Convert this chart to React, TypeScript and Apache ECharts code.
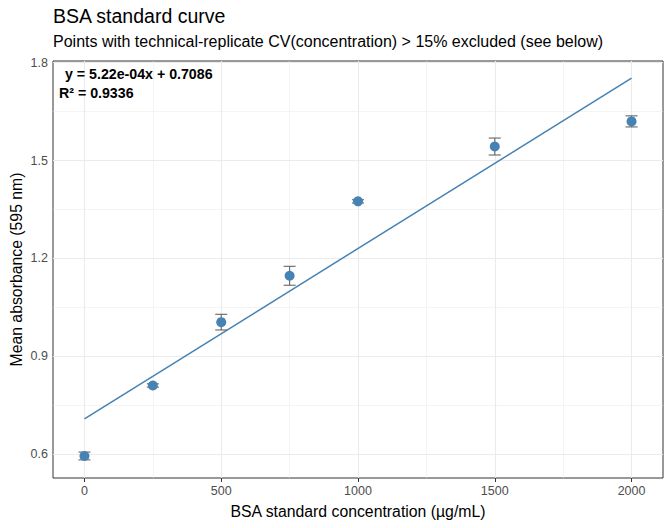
import React, { useEffect, useRef } from "react";
import * as echarts from "echarts";

// ---- data ----
const concentrations = [0, 250, 500, 750, 1000, 1500, 2000];
const meanAbsorbance = [0.595, 0.811, 1.005, 1.147, 1.375, 1.543, 1.62];
const absorbanceSD = [0.012, 0.005, 0.024, 0.029, 0.005, 0.026, 0.017];
const fitX = [0, 2000];
const fitY = [0.7086, 1.7526];
const xTicks = [0, 500, 1000, 1500, 2000];
const xMinorTicks = [250, 750, 1250, 1750];
const yTicks = [0.6, 0.9, 1.2, 1.5, 1.8];
const yMinorTicks = [0.75, 1.05, 1.35, 1.65];
const titleText = "BSA standard curve";
const subtitleText = "Points with technical-replicate CV(concentration) > 15% excluded (see below)";
const xTitle = "BSA standard concentration (µg/mL)";
const yTitle = "Mean absorbance (595 nm)";
const eqText = "y = 5.22e-04x + 0.7086";
const r2Text = "R² = 0.9336";

const FONT = "'Liberation Sans', Arial, Helvetica, sans-serif";
const BLUE = "#4682B4";

export default function App() {
  const ref = useRef<HTMLDivElement>(null);
  useEffect(() => {
    if (!ref.current) return;
    const chart = echarts.init(ref.current, undefined, { renderer: "svg" });
    const errData = concentrations.map((c, i) => [
      c,
      meanAbsorbance[i] - absorbanceSD[i],
      meanAbsorbance[i] + absorbanceSD[i],
    ]);
    const capWidth = 44;
    const gridLines = [
      ...xTicks.map((v) => ({ xAxis: v, lineStyle: { width: 1.1 } })),
      ...xMinorTicks.map((v) => ({ xAxis: v, lineStyle: { width: 0.55 } })),
      ...yTicks.map((v) => ({ yAxis: v, lineStyle: { width: 1.1 } })),
      ...yMinorTicks.map((v) => ({ yAxis: v, lineStyle: { width: 0.55 } })),
    ];
    chart.setOption({
      animation: false,
      backgroundColor: "#ffffff",
      grid: {
        left: 53,
        right: 9,
        top: 61,
        bottom: 50,
        show: true,
        borderColor: "#333333",
        borderWidth: 1,
        backgroundColor: "#ffffff",
      },
      xAxis: {
        type: "value",
        min: -115,
        max: 2115,
        axisLine: { show: false },
        splitLine: { show: false },
        axisTick: {
          show: true,
          customValues: xTicks,
          length: 4,
          lineStyle: { color: "#333333", width: 1 },
        },
        axisLabel: {
          customValues: xTicks,
          color: "#4D4D4D",
          fontSize: 12.5,
          fontFamily: FONT,
          margin: 6,
          formatter: (v: number) => String(v),
        },
      },
      yAxis: {
        type: "value",
        min: 0.5275,
        max: 1.805,
        axisLine: { show: false },
        splitLine: { show: false },
        axisTick: {
          show: true,
          customValues: yTicks,
          length: 4,
          lineStyle: { color: "#333333", width: 1 },
        },
        axisLabel: {
          customValues: yTicks,
          color: "#4D4D4D",
          fontSize: 12.5,
          fontFamily: FONT,
          margin: 5,
          formatter: (v: number) => v.toFixed(1),
        },
      },
      graphic: [
        {
          type: "text",
          x: 53,
          y: 16,
          style: { text: titleText, font: `19.5px ${FONT}`, fill: "#000", verticalAlign: "middle" },
        },
        {
          type: "text",
          x: 53,
          y: 41.5,
          style: { text: subtitleText, font: `16px ${FONT}`, fill: "#000", verticalAlign: "middle" },
        },
        {
          type: "text",
          x: 358,
          y: 511,
          style: { text: xTitle, font: `15.8px ${FONT}`, fill: "#000", align: "center", verticalAlign: "middle" },
        },
        {
          type: "text",
          x: 16,
          y: 269.5,
          rotation: Math.PI / 2,
          style: { text: yTitle, font: `15.8px ${FONT}`, fill: "#000", align: "center", verticalAlign: "middle" },
        },
        {
          type: "text",
          x: 65,
          y: 73.5,
          z: 100,
          style: { text: eqText, font: `bold 14.2px ${FONT}`, fill: "#000", verticalAlign: "middle" },
        },
        {
          type: "text",
          x: 59,
          y: 92.5,
          z: 100,
          style: { text: r2Text, font: `bold 14.2px ${FONT}`, fill: "#000", verticalAlign: "middle" },
        },
      ],
      series: [
        {
          type: "scatter",
          data: [],
          z: 1,
          silent: true,
          markLine: {
            z: 1,
            silent: true,
            symbol: ["none", "none"],
            label: { show: false },
            emphasis: { disabled: true },
            lineStyle: { color: "#EBEBEB", type: "solid" },
            data: gridLines,
          },
        },
        {
          type: "line",
          data: fitX.map((x, i) => [x, fitY[i]]),
          showSymbol: false,
          symbol: "none",
          z: 3,
          silent: true,
          lineStyle: { color: BLUE, width: 1.5 },
        },
        {
          type: "custom",
          z: 4,
          silent: true,
          data: errData,
          encode: { x: 0, y: [1, 2] },
          renderItem: (params: any, api: any) => {
            const x = api.value(0);
            const lo = api.coord([x, api.value(1)]);
            const hi = api.coord([x, api.value(2)]);
            const half = api.size([capWidth, 0])[0] / 2;
            const style = { stroke: "#666666", lineWidth: 1.1 };
            return {
              type: "group",
              children: [
                { type: "line", shape: { x1: lo[0], y1: lo[1], x2: hi[0], y2: hi[1] }, style },
                { type: "line", shape: { x1: lo[0] - half, y1: lo[1], x2: lo[0] + half, y2: lo[1] }, style },
                { type: "line", shape: { x1: hi[0] - half, y1: hi[1], x2: hi[0] + half, y2: hi[1] }, style },
              ],
            };
          },
        },
        {
          type: "scatter",
          data: concentrations.map((c, i) => [c, meanAbsorbance[i]]),
          symbol: "circle",
          symbolSize: 10,
          z: 5,
          silent: true,
          itemStyle: { color: BLUE, opacity: 1 },
        },
      ],
    });
    return () => chart.dispose();
  }, []);
  return (
    <div
      ref={ref}
      style={{ position: "fixed", left: 0, top: 0, width: 672, height: 528 }}
    />
  );
}
